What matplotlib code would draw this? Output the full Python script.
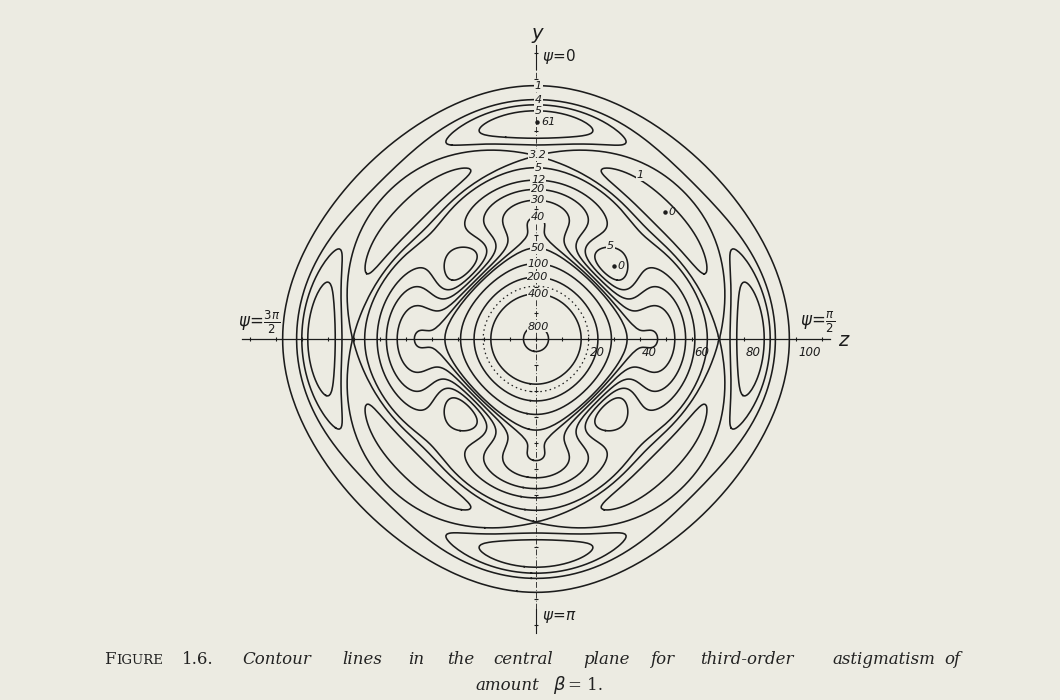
import numpy as np
import matplotlib
matplotlib.use('Agg')
import matplotlib.pyplot as plt
from matplotlib.path import Path
import contourpy

# amount of third-order astigmatism (phase at pupil rim, radians)
BETA = 1.0
# contour levels, intensity scaled so the unaberrated centre is 1000
LOW_LEVELS = [1, 4]
SADDLE_LEVEL = 3.2   # drawn through the saddle between 2nd and 3rd ring
HIGH_LEVELS = [5, 12, 20, 30, 40, 50, 100, 200, 400, 800]
DOTTED_LEVELS = [300]
# contour labels written in the drawing (text, place in units of 0.1 v)
LABEL_TEXT = ['1', '4', '5', '3.2', '5', '12', '20', '30', '40', '50',
              '100', '200', '400', '800']
LABEL_R = [99.6, 91.9, 88.8, 71.5, 67.3, 62.7, 58.8, 53.8, 46.9, 35.0,
           29.2, 23.5, 16.9, 4.2]
SIDE_TEXT = ['1', '5']
SIDE_SPOTS = [(40, 63), (28.5, 35.8)]
# marked points: maximum of the top lobe and two zeros
POINT_TEXT = ['61', '0', '0']
POINT_SPOTS = [(0.5, 83.5), (49.6, 48.8), (30, 28)]
# labelled ticks on the z axis
Z_TICKS = [20, 40, 60, 80, 100]

PAPER = '#ecebe2'
INK = '#1c1c1c'
SCALE = 2.6          # pixels per unit
CX, CY = 536, 339    # centre of the drawing in pixels


def astigmatic_intensity(beta, coords, n=256):
    """Intensity in the central plane for a pupil with phase beta*(x^2-y^2)."""
    x = -1 + (np.arange(n) + 0.5) * 2 / n
    X, Y = np.meshgrid(x, x)
    inside = (X ** 2 + Y ** 2) <= 1
    pupil = inside * np.exp(1j * beta * (X ** 2 - Y ** 2))
    kernel = np.exp(-1j * np.outer(coords / 10.0, x))
    field = kernel @ pupil @ kernel.T
    return 1000 * np.abs(field / inside.sum()) ** 2


def keep_low(seg, level):
    """The draughtsman left out the weak contours near the centre and
    the ones of the fourth ring."""
    r = np.hypot(seg[:, 0], seg[:, 1])
    if r.max() < 52 or r.min() > 100:
        return False
    if level == 4 and Path(seg).contains_point((0, 0)):
        return False
    return True


def axis_crossings(segs):
    ys = []
    for seg in segs:
        x, y = seg[:, 0], seg[:, 1]
        idx = np.where(x[:-1] * x[1:] < 0)[0]
        for i in idx:
            t = x[i] / (x[i] - x[i + 1])
            ys.append(y[i] + t * (y[i + 1] - y[i]))
    return np.array([v for v in ys if v > 0])


coords = np.linspace(-112, 112, 450)
intensity = astigmatic_intensity(BETA, coords)
gen = contourpy.contour_generator(coords, coords, intensity)

# the 3.2 line runs through the saddle on the y axis between the
# 2nd and 3rd bright ring, so take the saddle value of the field for it
mid = len(coords) // 2
profile = intensity[mid:, mid]
band = (coords[mid:] > 64) & (coords[mid:] < 78)
saddle = profile[band].min() + 0.005

fig = plt.figure(figsize=(10.6, 7.0), dpi=100, facecolor=PAPER)
half = 125
w_px = 2 * half * SCALE
ax = fig.add_axes([(CX - w_px / 2) / 1060, (700 - CY - w_px / 2) / 700,
                   w_px / 1060, w_px / 700])
ax.set_xlim(-half, half)
ax.set_ylim(-half, half)
ax.set_aspect('equal')
ax.axis('off')

drawn = []
for lv in LOW_LEVELS + [saddle]:
    for seg in gen.lines(lv):
        if keep_low(seg, lv):
            ax.plot(seg[:, 0], seg[:, 1], color=INK, lw=1.15)
            drawn.append(seg)
for lv in HIGH_LEVELS:
    for seg in gen.lines(lv):
        ax.plot(seg[:, 0], seg[:, 1], color=INK, lw=1.15)
        drawn.append(seg)
for lv in DOTTED_LEVELS:
    for seg in gen.lines(lv):
        ax.plot(seg[:, 0], seg[:, 1], color=INK, lw=0.9,
                dashes=(1.2, 2.6))

# labels sit on the line crossing the y axis nearest to where they are drawn
cross = axis_crossings(drawn)
box = dict(boxstyle='square,pad=0.08', fc=PAPER, ec='none')
for txt, r in zip(LABEL_TEXT, LABEL_R):
    near = cross[np.argmin(abs(cross - r))]
    yy = near if abs(near - r) < 3 else r
    ax.text(0.8, yy, txt, fontsize=8, style='italic', color=INK,
            ha='center', va='center', bbox=box, zorder=5)
for txt, (px, py) in zip(SIDE_TEXT, SIDE_SPOTS):
    ax.text(px, py, txt, fontsize=8, style='italic', color=INK,
            ha='center', va='center', bbox=box, zorder=5)

for txt, (px, py) in zip(POINT_TEXT, POINT_SPOTS):
    ax.plot(px, py, 'o', ms=2.2, color=INK)
    ax.text(px + 1.5, py, txt, fontsize=8, style='italic', color=INK,
            ha='left', va='center')

# z axis with its small tick marks
minor = np.arange(-110, 111, 10)
ax.plot([-113, 113], [0, 0], color=INK, lw=0.9)
ax.plot(minor, np.zeros_like(minor), '|', ms=3, color=INK, mew=0.8)
for tk in Z_TICKS:
    ax.text(tk + 0.8, -2.5, str(tk), fontsize=8.5, style='italic', color=INK,
            ha='left', va='top')

# y axis: dash-dot, with short solid pieces near the psi labels
ax.plot([0, 0], [-104, 104], color=INK, lw=0.6, dashes=(7, 2.5, 1, 2.5))
ax.plot([0, 0], [104, 113], color=INK, lw=0.8)
ax.plot([0, 0], [-104, -113], color=INK, lw=0.8)
ax.plot(np.zeros_like(minor), minor, '_', ms=3, color=INK, mew=0.8)

ax.text(0.5, 117.5, 'y', fontsize=14, style='italic', color=INK,
        ha='center', va='center')
ax.text(116, -0.5, 'z', fontsize=14, style='italic', color=INK,
        ha='left', va='center')
ax.text(2.5, 108.5, r'$\psi\!=\!0$', fontsize=11, color=INK,
        ha='left', va='center')
ax.text(2.5, -107, r'$\psi\!=\!\pi$', fontsize=11, color=INK,
        ha='left', va='center')
ax.text(101.5, 6.5, r'$\psi\!=\!\frac{\pi}{2}$', fontsize=12, color=INK,
        ha='left', va='center')
ax.text(-114.5, 6.5, r'$\psi\!=\!\frac{3\pi}{2}$', fontsize=12, color=INK,
        ha='left', va='center')

# caption, word by word as set in the book
cap = dict(family='DejaVu Serif', color='#222222', va='center')
y1 = 1 - 660 / 700
fig.text(104 / 1060, y1, 'F', fontsize=12, **cap)
fig.text(116 / 1060, y1 - 0.001, 'IGURE', fontsize=9.5, **cap)
fig.text(182 / 1060, y1, '1.6.', fontsize=12, **cap)
words = ['Contour', 'lines', 'in', 'the', 'central', 'plane', 'for',
         'third-order', 'astigmatism', 'of']
starts = [242, 342, 408, 447, 493, 583, 650, 700, 832, 944]
for wd, sx in zip(words, starts):
    fig.text(sx / 1060, y1, wd, fontsize=12, style='italic', **cap)
y2 = 1 - 685 / 700
fig.text(475 / 1060, y2, 'amount', fontsize=12, style='italic', **cap)
fig.text(553 / 1060, y2, r'$\beta$', fontsize=13, **cap)
fig.text(568 / 1060, y2, '= 1.', fontsize=12, **cap)

fig.savefig('out.png', dpi=100, facecolor=PAPER)
